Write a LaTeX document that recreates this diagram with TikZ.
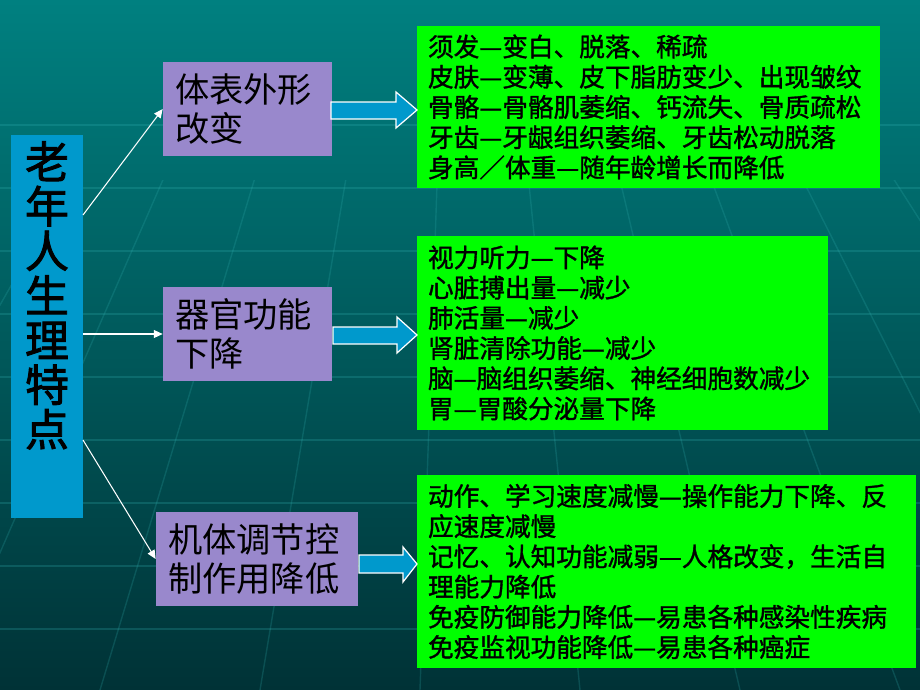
\documentclass[tikz,border=0pt]{standalone}
\usepackage{fontspec}
\setmainfont{Noto Sans CJK SC}
\newfontfamily\factfont[FakeBold=1.3]{Noto Sans CJK SC}
\newfontfamily\headfont[FakeBold=2]{Noto Sans CJK SC}
\usetikzlibrary{arrows.meta}
\definecolor{titleblue}{RGB}{0,153,204}
\definecolor{lilac}{RGB}{153,136,204}
\definecolor{leaf}{RGB}{0,255,0}
\definecolor{deepteal}{RGB}{0,128,128}
\definecolor{darkteal}{RGB}{0,50,54}
\definecolor{gridteal}{RGB}{50,175,175}
\tikzset{
  every node/.style={
    text=black
  },
  topicbox/.style={fill=lilac, inner xsep=0.24cm, align=left,
    minimum height=1.88cm, font=\fontsize{19.5}{22.5}\selectfont},
  factbox/.style={fill=leaf, inner xsep=0.22cm, align=left,
    font=\factfont\fontsize{14.6}{17.2}\selectfont},
  link/.style={white, line width=0.6pt, -{Triangle[length=5pt,width=4.5pt]}},
  fatarrow/.style={fill=titleblue, draw=white, line width=0.7pt}
}

\begin{document}
\begin{tikzpicture}[x=0.02cm, y=-0.02cm]
    \useasboundingbox (0,0) rectangle (920,690);
    \shade[top color=deepteal, bottom color=darkteal] (0,0) rectangle (920,690);
    % faint grid in the background
    \foreach \y in {125,188,...,640}
      \draw[gridteal, opacity=0.25, line width=0.8pt] (0,\y) -- (920,\y);
    \begin{scope}
      \clip (0,180) rectangle (920,690);
      \foreach \x in {-700,-540,...,1700}
        \draw[gridteal, opacity=0.22, line width=0.8pt] (460,-500) -- (\x,690);
    \end{scope}

    \node[fill=titleblue, minimum width=1.44cm, minimum height=7.66cm] (title) at (47,326.5) {};
    \node[anchor=north, inner sep=0, align=center,
      font=\headfont\fontsize{25}{25.4}\selectfont] (titletext) at (47,141)
      {老\\年\\人\\生\\理\\特\\点};

    \node[topicbox, minimum width=3.38cm, text width=2.9cm] (topic1) at (247.5,109) {体表外形\\改变};
    \node[topicbox, minimum width=3.38cm, text width=2.9cm] (topic2) at (247.5,334) {器官功能\\下降};
    \node[topicbox, minimum width=4.04cm, text width=3.56cm] (topic3) at (257,559) {机体调节控\\制作用降低};

    \node[factbox, minimum width=9.26cm, minimum height=3.24cm, text width=8.82cm] (facts1) at (648.5,107)
      {须发—变白、脱落、稀疏\\
       皮肤—变薄、皮下脂肪变少、出现皱纹\\
       骨骼—骨骼肌萎缩、钙流失、骨质疏松\\
       牙齿—牙龈组织萎缩、牙齿松动脱落\\
       身高／体重—随年龄增长而降低};
    \node[factbox, minimum width=8.22cm, minimum height=3.88cm, text width=7.78cm] (facts2) at (622.5,333)
      {视力听力—下降\\
       心脏搏出量—减少\\
       肺活量—减少\\
       肾脏清除功能—减少\\
       脑—脑组织萎缩、神经细胞数减少\\
       胃—胃酸分泌量下降};
    \node[factbox, minimum width=9.98cm, minimum height=3.86cm, text width=9.54cm] (facts3) at (666.5,571.5)
      {动作、学习速度减慢—操作能力下降、反\\
       应速度减慢\\
       记忆、认知功能减弱—人格改变，生活自\\
       理能力降低\\
       免疫防御能力降低—易患各种感染性疾病\\
       免疫监视功能降低—易患各种癌症};

    \coordinate (t1) at (83,215);
    \coordinate (t3) at (83,440);
    \draw[link] (t1) -- (topic1.west);
    \draw[link] (title.east |- topic2.west) -- (topic2.west);
    \draw[link] (t3) -- (topic3.west);

    \draw[fatarrow] (331,102) -- (396,102) -- (396,92) -- (417,110) -- (396,128) -- (396,119) -- (331,119) -- cycle;
    \draw[fatarrow] (333,327) -- (397,327) -- (397,317) -- (417,335) -- (397,353) -- (397,344) -- (333,344) -- cycle;
    \draw[fatarrow] (359,555) -- (403,555) -- (403,547) -- (417,564) -- (403,582) -- (403,573) -- (359,573) -- cycle;

\end{tikzpicture}
\end{document}
